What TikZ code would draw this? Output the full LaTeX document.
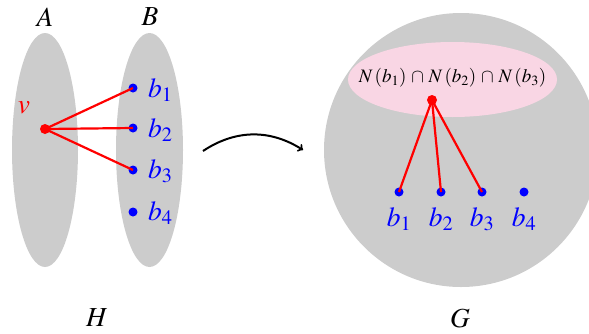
\documentclass[tikz,border=0pt]{standalone}
\usepackage{mathptmx}
\usetikzlibrary{shapes.geometric}
\definecolor{setgray}{RGB}{204,204,204}
\definecolor{setpink}{RGB}{249,214,228}
\tikzset{
  setell/.style={ellipse, fill=setgray, inner sep=0pt},
  bdot/.style={circle, fill=blue, inner sep=0pt, minimum size=9pt},
  rdot/.style={circle, fill=red, inner sep=0pt, minimum size=10pt},
  redge/.style={red, line width=2.2pt},
  lbl/.style={font=\fontsize{27.5}{32}\selectfont, inner sep=0pt},
  blbl/.style={lbl, text=blue},
}
\begin{document}
\begin{tikzpicture}[x=1pt,y=-1pt]
\useasboundingbox (0,0) rectangle (589,333);
% H
\node[setell, minimum width=66pt, minimum height=234pt] (A) at (45,150) {};
\node[setell, minimum width=67pt, minimum height=234pt] (B) at (149.5,150) {};
\node[lbl] (Alab) at (45,17) {$A$};
\node[lbl] (Blab) at (150,17) {$B$};
\node[lbl] (H) at (97,318) {$H$};
\node[rdot] (v) at (45,129) {};
\node[lbl, text=red] (vlab) at (24,108) {$v$};
\node[bdot] (hb1) at (133,88) {};
\node[bdot] (hb2) at (133,128) {};
\node[bdot] (hb3) at (133,170) {};
\node[bdot] (hb4) at (133,212) {};
\node[blbl, anchor=west] (hl1) at (148,90) {$b_1$};
\node[blbl, anchor=west] (hl2) at (148,130) {$b_2$};
\node[blbl, anchor=west] (hl3) at (148,171) {$b_3$};
\node[blbl, anchor=west] (hl4) at (148,213) {$b_4$};
\draw[redge] (v.center) -- (hb1.center);
\draw[redge] (v.center) -- (hb2.center);
\draw[redge] (v.center) -- (hb3.center);
% arrow
\coordinate (as) at (203,151);
\coordinate (ae) at (303,150);
\draw[->, line width=2pt] (as) to[bend left=33] (ae);
% G
\node[circle, fill=setgray, inner sep=0pt, minimum size=274pt] (Gc) at (461,150) {};
\node[ellipse, fill=setpink, inner sep=0pt, minimum width=209pt, minimum height=75pt] (P) at (452.5,79.5) {};
\node[inner sep=0pt, font=\fontsize{19}{22}\selectfont] (Ptext) at (452.5,78) {$N\,(b_1)\,\cap\,N\,(b_2)\,\cap\,N\,(b_3)$};
\node[rdot] (u) at (432,100) {};
\node[bdot] (gb1) at (399,192) {};
\node[bdot] (gb2) at (441,192) {};
\node[bdot] (gb3) at (482,192) {};
\node[bdot] (gb4) at (524,192) {};
\node[blbl] (gl1) at (399,219) {$b_1$};
\node[blbl] (gl2) at (441,219) {$b_2$};
\node[blbl] (gl3) at (482,219) {$b_3$};
\node[blbl] (gl4) at (524,219) {$b_4$};
\draw[redge] (u.center) -- (gb1.center);
\draw[redge] (u.center) -- (gb2.center);
\draw[redge] (u.center) -- (gb3.center);
\node[lbl] (G) at (460,318) {$G$};
\end{tikzpicture}
\end{document}
